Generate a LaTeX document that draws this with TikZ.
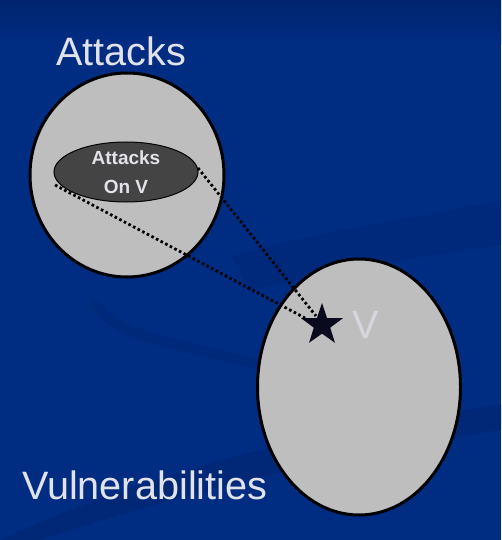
\documentclass[tikz,border=0pt]{standalone}
\usepackage{fontspec}
\setmainfont{Liberation Sans}
\usetikzlibrary{shapes.geometric}
\definecolor{bgblue}{HTML}{002C82}
\definecolor{bgtop}{HTML}{00256F}
\definecolor{bgband}{HTML}{002875}
\definecolor{setgray}{HTML}{BEBEBE}
\definecolor{innergray}{HTML}{444444}
\definecolor{lighttext}{HTML}{E2E2EA}
\definecolor{vtext}{HTML}{D6D6DE}
\definecolor{starblack}{HTML}{0A0A1E}
\tikzset{
  setshape/.style={ellipse, draw=black, fill=setgray, line width=3pt, inner sep=0pt, outer sep=0pt},
  innerset/.style={ellipse, draw=black, fill=innergray, line width=1pt, inner sep=0pt},
  bigtext/.style={text=lighttext, font=\fontsize{39.6}{47}\selectfont, inner sep=0pt, anchor=base west},
  smalltext/.style={text=lighttext, font=\bfseries\fontsize{19}{29}\selectfont, align=center, inner sep=0pt},
  dotline/.style={draw=black, line width=2.8pt, dash pattern=on 2.6pt off 2.6pt}
}
\begin{document}
\begin{tikzpicture}[x=1pt, y=-1pt]
  \useasboundingbox (0,0) rectangle (501,540);
  \fill[bgblue] (0,0) rectangle (501,540);
  \shade[top color=bgtop, bottom color=bgblue] (0,0) rectangle (501,45);
  % faint background swooshes
  \fill[bgband, opacity=0.8] (0,540) .. controls (150,470) and (320,430) .. (501,405) -- (501,430) .. controls (330,455) and (160,500) .. (40,540) -- cycle;
  \fill[bgband, opacity=0.6] (90,300) .. controls (100,340) and (180,350) .. (270,372) -- (270,362) .. controls (190,342) and (110,330) .. (100,300) -- cycle;
  \fill[bgband, opacity=0.5] (230,255) .. controls (330,230) and (430,215) .. (501,200) -- (501,245) .. controls (430,255) and (340,270) .. (250,290) -- cycle;

  \node[bigtext] (attlabel) at (56,66) {Attacks};
  \node[bigtext] (vullabel) at (22,499) {Vulnerabilities};

  \node[setshape, minimum width=194pt, minimum height=204pt] (attacks) at (127,175) {};
  \node[setshape, minimum width=203pt, minimum height=256pt] (vuln) at (359,387) {};

  \node[innerset, minimum width=144pt, minimum height=60pt] (onv) at (126,172) {};
  \node[smalltext] (onvtext) at (onv.center) {Attacks\\On V};

  \node[star, star points=5, star point ratio=2.55, fill=starblack, minimum size=44pt, inner sep=0pt] (star) at (322,325) {};
  \node[bigtext, text=vtext] (vlabel) at (352,338) {V};

  \coordinate (upstart) at (198,168);
  \coordinate (lowstart) at (55,185);
  \coordinate (upend) at (316,316);
  \coordinate (lowend) at (305,318);
  \draw[dotline] (upstart) -- (upend);
  \draw[dotline] (lowstart) -- (lowend);
\end{tikzpicture}
\end{document}
